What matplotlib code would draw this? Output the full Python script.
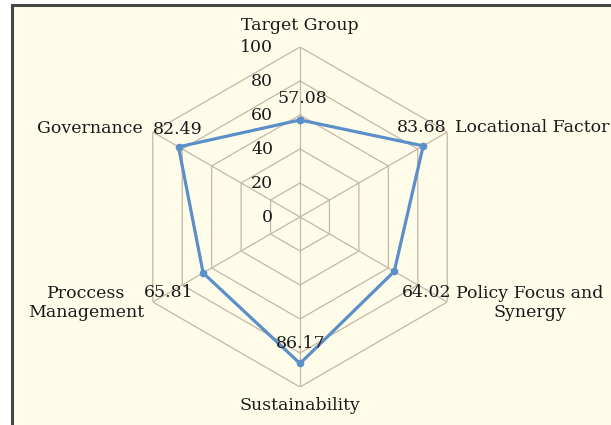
import numpy as np
import matplotlib.pyplot as plt
from matplotlib.patches import Rectangle

# ---------------- DATA ----------------
categories = ["Target Group", "Locational Factor", "Policy Focus and\nSynergy",
              "Sustainability", "Proccess\nManagement", "Governance"]
scores = [57.08, 83.68, 64.02, 86.17, 65.81, 82.49]
ring_ticks = [0, 20, 40, 60, 80, 100]

# label offsets in pixels (x, y) for category names and value labels
cat_offsets = [(0, 22), (8, 4), (9, -1), (0, -18), (-9, -1), (-10, 4)]
cat_align = ["center", "left", "left", "center", "right", "right"]
val_offsets = [(2, 21), (-2, 18), (32, -21), (1, 20), (-34, -20), (-1, 17)]

GRID = "#c6b6a6"
LINE = "#5a8fc8"
CREAM = "#fffdea"
TEXT = "#1a1a1a"
FS = 12.5

plt.rcParams["font.family"] = ["DejaVu Serif"]

fig = plt.figure(figsize=(6.11, 4.25), dpi=100)
fig.patch.set_facecolor("white")

# cream panel with dark frame (top/left visible, rest runs off the image)
panel = Rectangle((12 / 611, -0.2), 1.3, 1.2 - 5 / 425,
                  transform=fig.transFigure, facecolor=CREAM,
                  edgecolor="#464646", linewidth=2.2, zorder=-5)
fig.add_artist(panel)

ax = fig.add_axes([130 / 611, 38 / 425, 340 / 611, 340 / 425], projection="polar")
ax.set_theta_offset(np.pi / 2)
ax.set_theta_direction(-1)
ax.set_ylim(0, 100)
ax.patch.set_alpha(0)
ax.spines["polar"].set_visible(False)
ax.grid(False)
ax.set_xticks([])
ax.set_yticks([])

n = len(categories)
angles = np.linspace(0, 2 * np.pi, n, endpoint=False)
closed = np.append(angles, angles[0])

# hexagonal rings
for r in ring_ticks[1:]:
    ax.plot(closed, [r] * (n + 1), color=GRID, lw=0.9, zorder=1)
# spokes
for a in angles:
    ax.plot([a, a], [0, 100], color=GRID, lw=0.9, zorder=1)

# ring labels along the top spoke
for r in ring_ticks:
    ax.annotate(str(r), xy=(0, r), xytext=(-27, 0), textcoords="offset pixels",
                ha="right", va="center", fontsize=FS, color=TEXT)

# data series
vals = scores + scores[:1]
ax.plot(closed, vals, color=LINE, lw=2.3, marker="o", markersize=4.5, zorder=3)

for a, v, off in zip(angles, scores, val_offsets):
    ax.annotate(f"{v:.2f}", xy=(a, v), xytext=off, textcoords="offset pixels",
                ha="center", va="center", fontsize=FS, color=TEXT, zorder=4)

for a, name, off, ha in zip(angles, categories, cat_offsets, cat_align):
    ax.annotate(name, xy=(a, 100), xytext=off, textcoords="offset pixels",
                ha=ha, va="center", multialignment="center",
                fontsize=FS, color=TEXT, linespacing=1.1)

fig.savefig("out.png", dpi=100, facecolor=fig.get_facecolor())
